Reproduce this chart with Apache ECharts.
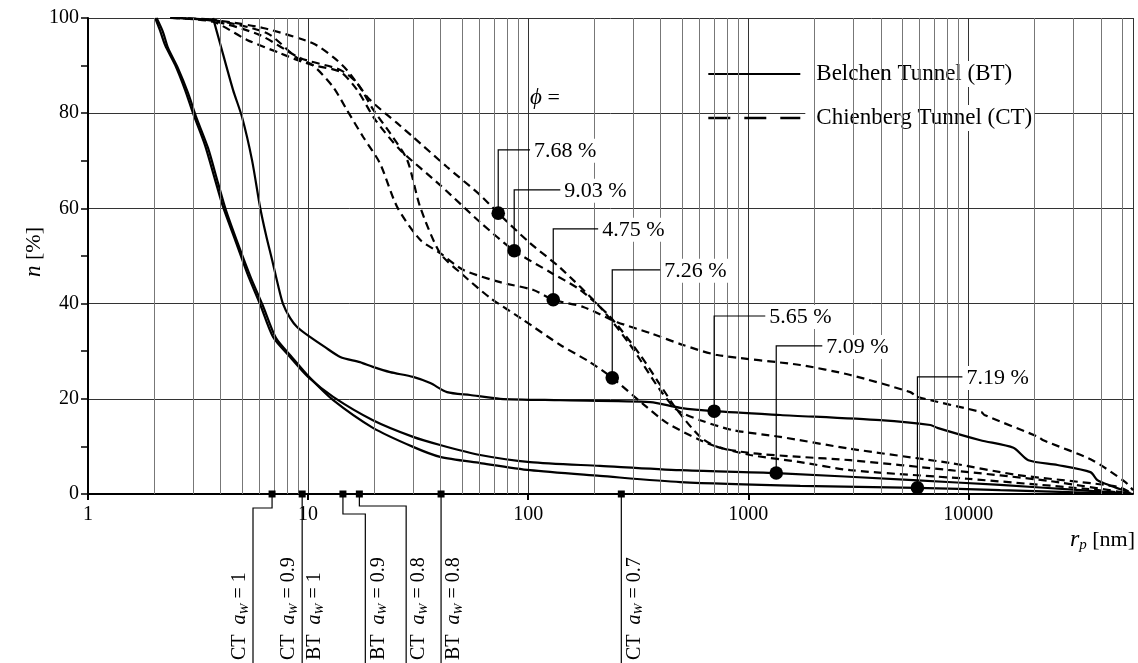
<!DOCTYPE html>
<html><head><meta charset="utf-8">
<script src="https://cdn.jsdelivr.net/npm/echarts@6/dist/echarts.min.js"></script>
<style>html,body{margin:0;padding:0;background:#fff}#c{width:1138px;height:663px}</style>
</head><body><div id="c"></div>
<script>
// ---------- data (r_p in nm, n in %) ----------
const xMin = 1, xMax = 56000;
const xTickLabels = [1, 10, 100, 1000, 10000];
const yTicks = [0, 20, 40, 60, 80, 100];
const minorGrid = [2,3,4,5,6,7,8,9,20,30,40,50,60,70,80,90,200,300,400,500,600,700,800,900,
  2000,3000,4000,5000,6000,7000,8000,9000,20000,30000,40000,50000];

// Belchen Tunnel (solid)
const bt565 = [[3.70,100],[3.98,94.7],[4.56,84.9],[5.01,79.2],[5.56,70.2],[6.05,60.3],[6.44,54.4],[6.86,49.2],[7.30,43.9],[7.70,39.9],[8.28,37.0],[8.91,35.1],[10.2,33.0],[11.9,30.9],[14.0,28.8],[17.2,27.7],[19.7,26.7],[23.6,25.6],[30.0,24.6],[35.9,23.3],[42.8,21.4],[54.5,20.8],[74.6,20.0],[140,19.7],[359,19.3],[491,18.1],[700,17.4],[1397,16.6],[3981,15.5],[6720,14.5],[7230,13.9],[11340,11.3],[16030,9.7],[18740,7.1],[25400,6.1],[35860,4.6],[38560,2.9],[41080,2.3],[54500,0.2]];
const bt709 = [[2.02,100],[2.12,97.5],[2.24,94.3],[2.49,90.1],[2.76,84.9],[3.00,80.0],[3.40,73.3],[3.78,66.0],[4.11,60.3],[4.66,53.4],[5.33,46.0],[6.05,39.9],[6.93,33.0],[8.28,28.8],[10.0,24.6],[13.0,20.4],[19.7,15.5],[30.0,12.0],[39.8,10.3],[60.5,8.2],[102,6.7],[212,5.9],[491,5.0],[1340,4.4],[5620,2.9],[13970,1.9],[32290,0.8],[54500,0]];
const bt719 = [[2.05,100],[2.19,97.1],[2.31,93.7],[2.56,89.5],[2.85,84.2],[3.09,79.4],[3.51,72.7],[3.90,65.3],[4.23,59.7],[4.79,52.7],[5.50,45.4],[6.24,39.5],[7.14,32.8],[8.50,28.6],[10.2,24.4],[13.0,19.7],[19.7,13.9],[30.0,9.9],[39.8,7.8],[60.5,6.5],[102,5.0],[212,3.8],[491,2.5],[1722,1.7],[5860,1.3],[13970,0.8],[54500,0]];

// Chienberg Tunnel (dashed)
const ct768 = [[2.36,100],[3.70,99.6],[6.24,97.9],[10.5,94.7],[13.0,91.8],[15.0,89.1],[16.7,86.3],[19.1,82.8],[25.4,77.9],[30.0,75.0],[42.8,68.7],[60.5,62.8],[73.1,59.0],[102,52.7],[140,47.5],[212,39.3],[291,31.3],[398,21.8],[476,17.6],[605,15.5],[855,13.4],[1397,12.0],[2909,9.5],[8280,6.5],[16700,4.0],[48050,1.5],[56000,0]];
const ct903 = [[2.41,100],[3.70,99.2],[5.28,95.4],[7.46,92.6],[8.91,91.2],[10.5,90.1],[14.0,88.7],[16.7,84.9],[20.2,78.6],[26.2,72.3],[39.8,64.9],[60.5,57.1],[86.4,51.1],[126,46.6],[172,42.9],[236,37.2],[323,29.2],[398,22.9],[476,17.6],[605,12.0],[723,9.9],[1021,8.6],[1722,7.8],[2909,7.1],[8280,5.0],[23600,2.7],[56000,0]];
const ct475 = [[2.49,100],[3.70,99.6],[6.51,96.8],[8.91,91.6],[10.5,90.1],[13.0,85.5],[15.0,80.7],[17.8,75.0],[21.2,69.5],[25.4,60.3],[32.3,53.4],[39.8,50.6],[50.6,47.1],[74.6,44.5],[105,42.9],[130,40.8],[178,39.3],[254,36.1],[359,33.8],[506,31.3],[723,29.2],[1722,27.1],[2909,25.0],[5450,21.4],[5870,20.4],[11460,17.2],[11830,16.6],[20800,12.0],[21900,11.3],[36600,7.1],[51700,2.5],[56000,0.8]];
const ct726 = [[2.56,100],[3.70,99.4],[6.05,96.4],[9.2,91.6],[14.0,89.1],[16.7,86.3],[19.8,80.7],[23.6,75.8],[28.2,70.2],[32.3,60.3],[39.8,50.6],[50.6,46.0],[67.2,41.2],[94.9,36.6],[140,31.3],[191,27.7],[241,24.4],[333,18.9],[428,14.9],[605,11.3],[723,9.9],[1021,8.2],[1722,6.7],[2909,5.0],[9890,3.2],[34000,1.1],[56000,0]];

// porosity call-outs
const phiLabels = ['7.68 %','9.03 %','4.75 %','7.26 %','5.65 %','7.09 %','7.19 %'];
const phiDotR   = [73.1, 86.4, 130, 241, 700, 1340, 5870];
const phiDotN   = [59.0, 51.1, 40.8, 24.4, 17.4, 4.4, 1.3];
const phiElbowN = [72.3, 63.9, 55.7, 47.1, 37.4, 31.1, 24.6];
const phiEndR   = [102, 140, 208, 398, 1195, 2170, 9400];

// water-activity markers on the r_p axis
const awTunnel = ['CT','CT','BT','BT','CT','BT','CT'];
const awValue  = ['1','0.9','1','0.9','0.8','0.8','0.7'];
const awMarkR  = [6.86, 9.4, 9.4, 14.4, 17.1, 40.2, 265];
const awLeadR  = [5.62, 9.4, 9.4, 18.2, 27.9, 40.2, 265];

// ---------- layout / style constants ----------
const awDrop = [14, 0, 0, 20, 12, 0, 0];       // elbow drop of leader (px)
const awSide = [-1, -1, 1, 1, 1, 1, 1];        // text left/right of leader
const SERIF = '"Liberation Serif","DejaVu Serif",serif';

const chart = echarts.init(document.getElementById('c'), null, {renderer:'canvas'});

const solid = {color:'#000', width:2.2, type:'solid'};
const dashed = {color:'#000', width:2.2, type:[8,5]};
function lineSeries(name, data, ls) {
  return {type:'line', name, data, showSymbol:false, symbol:'none', smooth:0.25,
    lineStyle:ls, itemStyle:{color:'#000', opacity:0}, z:3, silent:true};
}

const option = {
  animation:false,
  backgroundColor:'#fff',
  grid:{left:88, right:5, top:18, bottom:169},
  legend:{
    data:[
      {name:'Belchen Tunnel (BT)', itemStyle:{opacity:0}, lineStyle:{color:'#000', width:2.2, type:'solid'}},
      {name:'Chienberg Tunnel (CT)', itemStyle:{opacity:0}, lineStyle:{color:'#000', width:2.6, type:[22,14]}}
    ],
    orient:'vertical', left:702, top:56, itemWidth:92, itemHeight:14, itemGap:18,
    selectedMode:false, itemStyle:{opacity:0},
    textStyle:{fontFamily:SERIF, fontSize:23, lineHeight:26, color:'#000', backgroundColor:'#fff', padding:[0,2,0,11]}
  },
  xAxis:{
    type:'log', logBase:10, min:xMin, max:xMax,
    axisLine:{lineStyle:{color:'#000', width:2}},
    axisTick:{show:true, length:6, lineStyle:{color:'#000', width:2}},
    axisLabel:{fontFamily:SERIF, fontSize:20, color:'#000', margin:11, showMaxLabel:false,
      formatter:v => xTickLabels.indexOf(Math.round(v))>=0 ? String(Math.round(v)) : ''},
    splitLine:{show:true, lineStyle:{color:'#333', width:1}}
  },
  yAxis:{
    type:'value', min:0, max:100, interval:20,
    axisLine:{show:true, lineStyle:{color:'#000', width:2}},
    axisTick:{show:true, length:7, lineStyle:{color:'#000', width:1.5}},
    minorTick:{show:true, splitNumber:2, length:7, lineStyle:{color:'#000', width:1.5}},
    axisLabel:{fontFamily:SERIF, fontSize:20, color:'#000', margin:9,
      formatter:v => yTicks.indexOf(v)>=0 ? String(v) : ''},
    splitLine:{show:true, lineStyle:{color:'#333', width:1}}
  },
  series:[
    {type:'line', data:[], silent:true, z:1,
      markLine:{silent:true, symbol:'none', label:{show:false},
        lineStyle:{color:'#777', width:1, type:'solid'},
        data:minorGrid.map(v => ({xAxis:v}))}},
    lineSeries('Belchen Tunnel (BT)', bt565, solid),
    lineSeries('Belchen Tunnel (BT)', bt709, solid),
    lineSeries('Belchen Tunnel (BT)', bt719, solid),
    lineSeries('Chienberg Tunnel (CT)', ct768, dashed),
    lineSeries('Chienberg Tunnel (CT)', ct903, dashed),
    lineSeries('Chienberg Tunnel (CT)', ct475, dashed),
    lineSeries('Chienberg Tunnel (CT)', ct726, dashed),
    {
      type:'custom', silent:true, z:5,
      data: phiDotR.map((r,i) => [r, phiDotN[i], phiElbowN[i], phiEndR[i]]),
      encode:{x:[0,3], y:[1,2]},
      renderItem:(params, api) => {
        const i = params.dataIndex;
        const p0 = api.coord([api.value(0), api.value(1)]);
        const p1 = api.coord([api.value(0), api.value(2)]);
        const p2 = api.coord([api.value(3), api.value(2)]);
        return {type:'group', children:[
          {type:'polyline', shape:{points:[p0,p1,p2]}, style:{stroke:'#000', lineWidth:1.2, fill:null}},
          {type:'circle', shape:{cx:p0[0], cy:p0[1], r:6.8}, style:{fill:'#000'}},
          {type:'text', x:p2[0]+2, y:p2[1]+1, style:{text:phiLabels[i], font:'22px '+SERIF, fill:'#000',
            align:'left', verticalAlign:'middle', backgroundColor:'#fff', padding:[1,2,1,2]}}
        ]};
      }
    },
    {
      type:'custom', silent:true, z:6, clip:false,
      data: awMarkR.map((r,i) => [r, 0, awLeadR[i]]),
      encode:{x:[0,2], y:1},
      renderItem:(params, api) => {
        const i = params.dataIndex;
        const p0 = api.coord([api.value(0), 0]);
        const pl = api.coord([api.value(2), 0]);
        const yb = api.getHeight();
        const d = awDrop[i];
        const pts = d > 0 ? [p0, [p0[0], p0[1]+d], [pl[0], p0[1]+d], [pl[0], yb]] : [p0, [p0[0], yb]];
        const children = [];
        if (i !== 2) {
          children.push({type:'polyline', shape:{points:pts}, style:{stroke:'#000', lineWidth:1.2, fill:null}});
          children.push({type:'rect', shape:{x:p0[0]-3.5, y:p0[1]-3.5, width:7, height:7}, style:{fill:'#000'}});
        }
        children.push({type:'text', x:pl[0] + awSide[i]*13, y:yb-3, rotation:Math.PI/2,
          style:{text:'{n|' + awTunnel[i] + '  }{i|a}{s|W}{n| = ' + awValue[i] + '}',
            align:'left', verticalAlign:'middle',
            rich:{
              n:{font:'20px '+SERIF, fill:'#000', lineHeight:22, verticalAlign:'middle'},
              i:{font:'italic 20px '+SERIF, fill:'#000', lineHeight:22, verticalAlign:'middle'},
              s:{font:'italic 13px '+SERIF, fill:'#000', lineHeight:13, verticalAlign:'bottom', padding:[8,0,0,0]}
            }}});
        return {type:'group', children};
      }
    }
  ],
  graphic:[
    {type:'text', x:34, y:252, rotation:Math.PI/2,
      style:{text:'{i|n}{n| [%]}', align:'center', verticalAlign:'middle',
        rich:{i:{font:'italic 23px '+SERIF, fill:'#000'}, n:{font:'22px '+SERIF, fill:'#000'}}}},
    {type:'text', x:1135, y:540,
      style:{text:'{i|r}{s|p}{n| [nm]}', align:'right', verticalAlign:'middle',
        rich:{i:{font:'italic 24px '+SERIF, fill:'#000', lineHeight:26},
              s:{font:'italic 15px '+SERIF, fill:'#000', lineHeight:15, verticalAlign:'bottom', padding:[10,0,0,0]},
              n:{font:'22px '+SERIF, fill:'#000', lineHeight:26}}}},
    {type:'text', x:530, y:98, z:10,
      style:{text:'{i|ϕ}{n| =}', align:'left', verticalAlign:'middle',
        rich:{i:{font:'italic 23px '+SERIF, fill:'#000'}, n:{font:'22px '+SERIF, fill:'#000'}}}}
  ]
};
chart.setOption(option);
</script></body></html>
